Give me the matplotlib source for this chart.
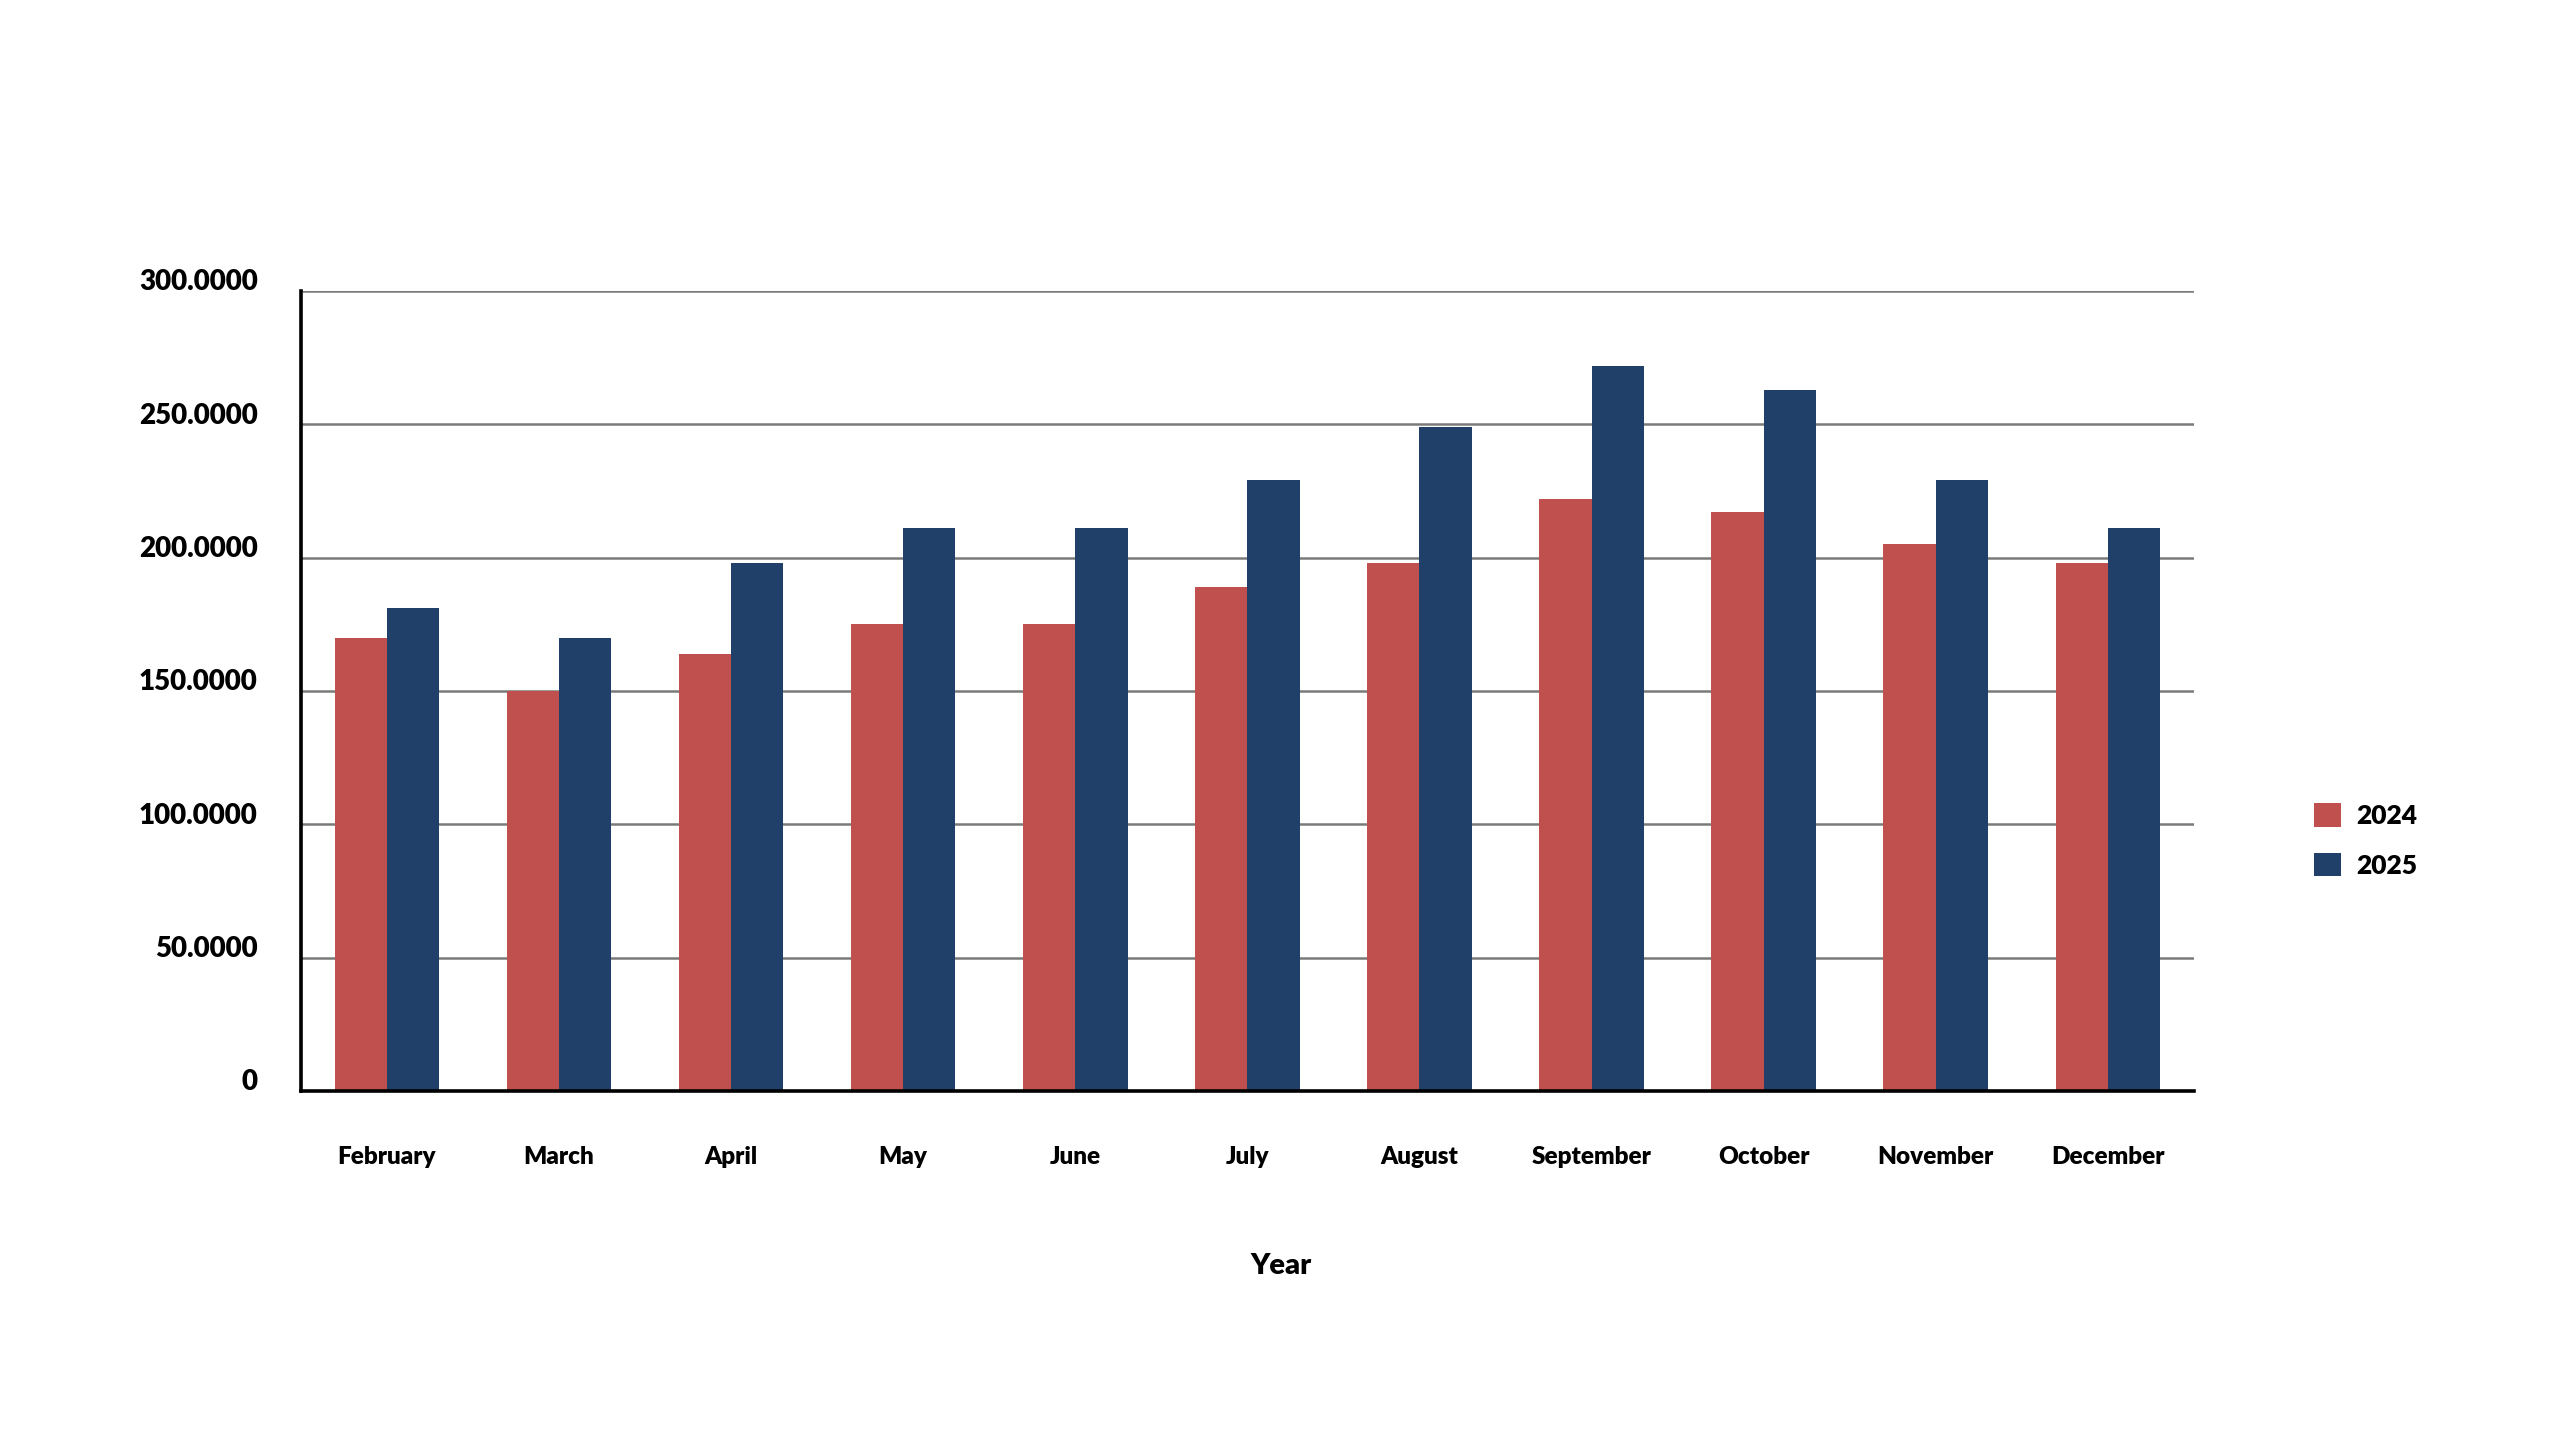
import numpy as np
import matplotlib
matplotlib.use("Agg")
import matplotlib.pyplot as plt
from matplotlib.transforms import ScaledTranslation

# data
months = ["February", "March", "April", "May", "June", "July",
          "August", "September", "October", "November", "December"]
sales_2024 = [170, 150, 164, 175, 175, 189, 198, 222, 217, 205, 198]
sales_2025 = [181, 170, 198, 211, 211, 229, 249, 272, 263, 229, 211]
series_names = ["2024", "2025"]
y_ticks = [0, 50, 100, 150, 200, 250, 300]

red = "#C0504D"
blue = "#20406A"
weight = "heavy"

plt.rcParams["font.family"] = ["Lato", "DejaVu Sans"]
plt.rcParams["font.weight"] = weight

fig = plt.figure(figsize=(25.6, 14.4), dpi=100)
ax = fig.add_axes([0.1175, 0.2424, 0.7395, 0.5556])

x = np.arange(len(months))
w = 0.304
ax.bar(x - w / 2, sales_2024, w, color=red, label=series_names[0], zorder=3)
ax.bar(x + w / 2, sales_2025, w, color=blue, label=series_names[1], zorder=3)

ax.set_xlim(-0.5, len(months) - 0.5)
ax.set_ylim(0, 300)

ax.set_yticks(y_ticks)
ax.set_yticklabels(["0" if v == 0 else f"{v:.4f}" for v in y_ticks],
                   fontsize=20, fontweight=weight)
ax.set_xticks(x)
ax.set_xticklabels(months, fontsize=17.5, fontweight=weight)
ax.tick_params(axis="y", length=0, pad=31)
ax.tick_params(axis="x", length=0, pad=40)

# labels sit a little above their gridlines
shift = ScaledTranslation(0, 8 / 72, fig.dpi_scale_trans)
for lbl in ax.get_yticklabels():
    lbl.set_transform(lbl.get_transform() + shift)

ax.yaxis.grid(True, color="#7a7a7a", linewidth=1.8, zorder=0)
ax.set_axisbelow(True)

for s in ["top", "right"]:
    ax.spines[s].set_visible(False)
for s in ["left", "bottom"]:
    ax.spines[s].set_color("black")
    ax.spines[s].set_linewidth(2.6)
    ax.spines[s].set_zorder(4)

ax.set_xlabel("Year", fontsize=21, fontweight=weight)
ax.xaxis.label.set_va("center")
ax.xaxis.set_label_coords(0.5176, -0.2187)

fig.legend(loc="center left", bbox_to_anchor=(0.904, 0.4163), frameon=False,
           handlelength=1.0, handleheight=1.0, handletextpad=0.6,
           labelspacing=0.93, borderpad=0, borderaxespad=0,
           prop={"weight": weight, "size": 19})

fig.savefig("out.png", dpi=100, facecolor="white")
